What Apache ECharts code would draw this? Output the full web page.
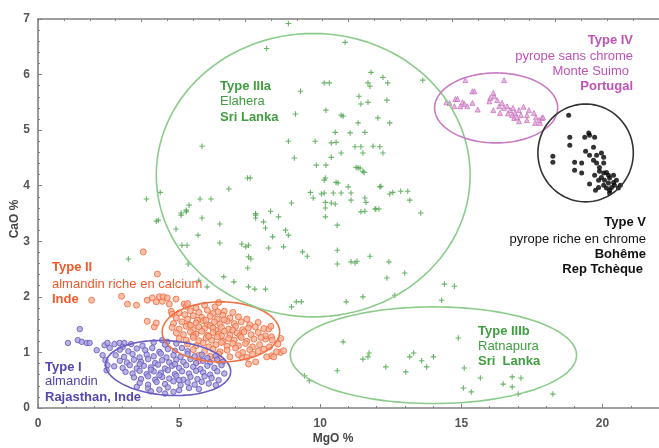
<!DOCTYPE html>
<html><head><meta charset="utf-8">
<script src="https://cdn.jsdelivr.net/npm/echarts@6/dist/echarts.min.js"></script>
<style>html,body{margin:0;padding:0;background:#fff}#c{width:659px;height:448px}</style>
</head><body><div id="c"></div>
<script>
// ---- data (MgO %, CaO %) ----
const typeI = [
[1.48,1.42],[1.06,1.17],[1.41,1.22],[1.55,1.19],[1.73,1.17],[1.83,1.17],[2.08,1.04],[2.36,1.13],[2.46,1.17],[2.54,1.08],[2.71,1.15],[2.89,1.17],[3.06,1.17],[2.29,0.95],[2.39,0.86],[2.46,0.77],[2.43,0.68],[4.4,1.22],[4.58,1.19],
[3.3,1.15],[3.7,1.12],[4.1,1.18],[4.5,1.14],[4.9,1.16],[3.0,1.1],
[2.9,1.05],[3.2,1.02],[3.5,1.07],[3.8,1.04],[4.05,1.08],[4.3,1.01],[4.6,1.06],[4.85,1.03],[5.1,1.08],[5.3,1.02],
[2.75,0.95],[3.05,0.92],[3.35,0.97],[3.6,0.91],[3.85,0.96],[4.1,0.93],[4.35,0.98],[4.55,0.91],[4.8,0.95],[5.05,0.92],[5.3,0.97],[5.55,0.93],[5.8,0.96],[6.0,0.9],[6.3,0.94],
[2.9,0.85],[3.15,0.82],[3.4,0.87],[3.65,0.83],[3.9,0.88],[4.15,0.81],[4.4,0.86],[4.65,0.82],[4.9,0.87],[5.15,0.83],[5.4,0.88],[5.6,0.81],[5.85,0.85],[6.1,0.82],[6.35,0.87],[6.55,0.83],
[2.7,0.75],[3.0,0.72],[3.25,0.77],[3.5,0.71],[3.75,0.76],[4.0,0.73],[4.25,0.78],[4.5,0.71],[4.75,0.76],[5.0,0.72],[5.25,0.77],[5.5,0.74],[5.75,0.7],[6.0,0.76],[6.25,0.72],[6.5,0.77],[3.6,0.79],[4.85,0.79],
[3.1,0.65],[3.35,0.62],[3.6,0.67],[3.85,0.61],[4.1,0.66],[4.35,0.63],[4.6,0.68],[4.85,0.61],[5.1,0.66],[5.35,0.62],[5.6,0.67],[5.85,0.64],[6.1,0.6],[6.35,0.66],[6.6,0.62],[4.0,0.69],
[3.4,0.55],[3.65,0.52],[3.9,0.57],[4.15,0.51],[4.4,0.56],[4.65,0.53],[4.9,0.58],[5.15,0.51],[5.4,0.56],[5.65,0.52],[5.9,0.57],[6.15,0.54],[6.4,0.5],[4.3,0.59],[5.0,0.5],
[3.6,0.45],[3.9,0.42],[4.2,0.47],[4.5,0.43],[4.8,0.48],[5.05,0.41],[5.3,0.46],[5.55,0.42],[5.8,0.47],[6.05,0.44],[6.3,0.41],
[3.9,0.35],[4.3,0.33],[4.6,0.37],[5.0,0.32],[5.35,0.36],[5.7,0.34],[4.0,0.3],[4.8,0.29],[3.5,0.38],[4.5,0.26]
];
const typeII = [
[3.73,2.81],[4.23,2.41],[1.9,1.94],[2.96,2.01],[3.17,1.87],[3.49,1.85],[3.87,1.94],[4.05,1.98],[4.19,1.91],[4.4,1.92],[4.3,2.0],[4.44,2.0],[4.58,1.98],[4.65,1.87],[4.89,1.96],[3.87,1.56],[4.12,1.46],[4.19,1.53],[5.18,1.87],[5.25,1.83],[4.72,1.74],[4.75,1.69],[6.27,1.82],[6.37,1.73],[8.17,1.42],[8.59,1.0],[8.27,0.94],[8.1,0.92],[7.71,0.83],[7.46,0.79],[8.06,1.24],[8.27,1.28],[5.7,0.85],[6.16,0.88],[6.41,0.85],[7.22,0.92],
[5.3,1.88],[5.9,1.85],[6.4,1.9],[5.6,1.8],
[5.0,1.71],[5.4,1.75],[5.7,1.72],[6.0,1.76],[6.2,1.7],[6.6,1.74],[6.9,1.72],[5.2,1.68],
[4.9,1.62],[5.3,1.6],[5.5,1.66],[5.8,1.63],[6.1,1.65],[6.35,1.6],[6.55,1.67],[6.8,1.62],[7.1,1.64],[7.4,1.6],[5.65,1.58],
[4.8,1.52],[5.1,1.55],[5.35,1.5],[5.6,1.53],[5.85,1.57],[6.0,1.5],[6.25,1.55],[6.45,1.51],[6.7,1.56],[6.95,1.52],[7.2,1.55],[7.5,1.5],[7.8,1.54],[5.95,1.58],[6.6,1.59],
[4.75,1.45],[5.0,1.42],[5.25,1.47],[5.5,1.41],[5.7,1.46],[5.9,1.43],[6.1,1.48],[6.3,1.4],[6.5,1.45],[6.75,1.42],[7.0,1.47],[7.25,1.41],[7.45,1.44],[7.7,1.46],[8.0,1.43],[8.25,1.47],[5.4,1.49],[6.2,1.44],[6.9,1.4],
[4.9,1.35],[5.15,1.32],[5.4,1.37],[5.6,1.33],[5.8,1.38],[6.0,1.31],[6.2,1.36],[6.4,1.33],[6.6,1.38],[6.8,1.31],[7.05,1.35],[7.3,1.37],[7.55,1.32],[7.8,1.36],[8.05,1.3],[5.5,1.3],[6.5,1.3],[7.15,1.3],
[5.0,1.25],[5.25,1.22],[5.5,1.27],[5.7,1.21],[5.95,1.26],[6.15,1.22],[6.35,1.28],[6.55,1.2],[6.75,1.25],[6.95,1.22],[7.2,1.27],[7.4,1.2],[7.65,1.24],[7.9,1.27],[8.3,1.22],[8.6,1.25],[6.05,1.29],
[5.3,1.15],[5.6,1.12],[5.85,1.17],[6.05,1.1],[6.3,1.14],[6.5,1.18],[6.7,1.11],[6.9,1.16],[7.1,1.12],[7.35,1.16],[7.6,1.1],[7.85,1.14],[8.2,1.1],[8.5,1.15],
[5.5,1.05],[5.9,1.02],[6.2,1.06],[6.45,1.01],[6.7,1.04],[7.0,1.08],[7.25,1.0],[7.5,1.05],[7.8,1.02],[8.0,1.06],[8.45,1.01],[8.7,1.03],
[5.7,0.95],[6.1,0.93],[6.4,0.97],[6.8,0.92],[7.1,0.96],[7.4,0.91],[7.6,0.97],[8.35,0.92]
];
const typeIIIa = [
[8.87,6.92],[8.1,6.47],[9.3,5.7],[10.14,5.85],[10.32,5.85],[9.12,5.29],[10.2,5.36],[5.81,4.71],[8.87,4.8],[9.82,4.8],[9.08,4.5],[9.86,4.37],[10.2,4.37],[7.42,4.14],[7.52,4.14],[6.76,3.94],[4.33,3.88],[3.84,3.76],[5.35,3.65],[5.74,3.76],[6.13,3.76],[5.07,3.51],[5.25,3.56],[5.81,3.42],[7.71,3.47],[8.24,3.54],[8.52,3.44],[8.98,3.69],[9.65,3.88],[9.75,3.78],[10.14,3.87],[10.14,4.1],[4.26,3.38],
[10.88,6.58],[11.8,6.04],[12.22,5.95],[12.39,5.85],[11.69,5.85],[11.76,5.79],[13.63,5.9],[11.37,5.61],[11.44,5.47],[11.69,5.5],[12.36,5.54],[10.74,5.27],[10.81,5.25],[12.04,5.22],[12.46,5.13],[11.34,5.13],[10.53,4.96],[11.06,4.95],[11.58,4.96],[10.39,4.77],[10.56,4.78],[11.23,4.7],[11.44,4.7],[11.87,4.71],[12.11,4.7],[12.22,4.59],[11.51,4.59],[10.39,4.51],[10.74,4.59],[11.34,4.32],[11.51,4.26],[10.56,4.06],[10.63,4.05],[10.99,3.98],[12.11,3.98],[10.46,3.87],[10.74,3.87],[11.09,3.87],[11.58,3.78],[12.46,3.85],[12.57,3.88],[12.85,3.9],[13.1,3.9],[11.58,3.54],[11.94,3.58],[13.56,3.51],[10.53,3.67],[11.09,3.74],
[10.18,4.14],[5.25,3.53],[5.07,3.47],[4.19,3.36],[4.89,3.22],[6.44,3.31],[5.67,3.11],[5.1,2.93],[5.28,2.93],[6.44,2.97],[7.71,3.5],[7.71,3.42],[7.99,3.35],[8.06,3.24],[8.77,3.2],[8.87,3.11],[8.31,3.08],[7.22,2.95],[7.36,2.9],[7.46,2.93],[8.17,2.88],[8.7,2.9],[9.37,2.81],[9.54,2.73],[7.46,2.72],[7.54,2.68],[7.43,2.52],[5.32,2.59],[6.58,2.36],[6.94,2.27],[7.46,2.18],[7.68,2.14],[8.06,2.14],[5.99,2.18],[5.7,2.3],[8.98,1.82],[9.15,1.91],[3.2,2.68],
[11.27,4.33],[11.41,4.32],[11.55,4.24],[12.15,3.99],[10.04,3.85],[10.18,3.7],[10.39,3.69],[10.18,3.6],[11.62,3.7],[13.17,3.74],[11.44,3.53],[11.97,3.58],[12.08,3.58],[10.18,3.44],[10.6,3.29],[10.6,2.84],[10.6,2.59],[11.09,2.63],[11.23,2.61],[11.3,2.64],[11.76,2.73],[12.43,2.63],[12.36,2.34],[12.99,2.43],[14.4,2.23],[14.75,2.19],[9.33,1.91],[10.92,1.91],[11.51,2.0],[12.64,2.03],[14.3,1.94]
];
const typeIIIb = [
[10.81,1.19],[10.6,0.67],[11.51,0.88],[11.69,0.92],[11.73,0.99],[12.32,0.74],[13.03,0.65],[13.17,0.92],[13.31,0.99],[13.59,0.85],[13.77,0.74],[14.01,0.92],[14.89,1.26],[15.1,0.72],[15.67,0.54],[15.07,0.36],[15.35,0.29],[16.48,0.43],[16.8,0.56],[17.11,0.54],[16.8,0.38],[17.01,0.25],[18.24,0.25],[9.44,0.58],[9.61,0.49]
];
const typeIV = [
[15.14,5.9],[16.51,5.9],[15.39,5.7],[14.79,5.56],[14.47,5.5],[15.04,5.5],[15.11,5.47],[15.21,5.43],[15.39,5.49],[14.96,5.43],[14.75,5.43],[16.02,5.58],[15.99,5.52],[16.16,5.61],[16.27,5.54],[16.34,5.43],[16.44,5.49],[16.62,5.43],[16.73,5.36],[16.83,5.40],[16.9,5.31],[17.04,5.36],[17.11,5.27],[16.8,5.27],[16.87,5.22],[16.97,5.23],[17.04,5.16],[17.39,5.36],[17.32,5.27],[17.57,5.31],[17.64,5.23],[17.32,5.18],[17.85,5.22],[17.78,5.13],[17.61,5.13],[16.13,5.36],[16.51,5.40],[16.37,5.31],[14.58,5.49],[14.86,5.56],[15.46,5.7],[16.13,5.67],[17.75,5.18],[17.89,5.23],[15.58,5.37],[16.65,5.3],[17.2,5.42]
];
const typeV = [
[18.8,5.27],[18.84,4.87],[18.84,4.73],[18.24,4.53],[18.24,4.42],[19.51,4.95],[19.54,4.91],[19.72,4.87],[19.37,4.87],[19.68,4.69],[19.4,4.62],[19.54,4.55],[19.79,4.55],[19.96,4.59],[20.04,4.51],[19.01,4.42],[19.26,4.41],[19.01,4.28],[19.26,4.23],[19.54,4.03],[19.68,4.46],[19.79,4.41],[19.89,4.33],[20.04,4.41],[19.89,4.26],[20.04,4.23],[20.14,4.24],[19.96,4.15],[19.86,4.10],[20.07,4.10],[20.25,4.14],[20.39,4.06],[20.21,4.05],[20.04,4.01],[19.86,3.97],[20.32,3.97],[20.42,4.01],[20.14,3.96],[20.25,3.92],[20.49,4.10],[20.21,4.19],[20.39,4.19],[20.25,3.87],[19.75,3.92],[20.56,3.96],[20.63,4.01],[19.72,4.19]
];
// ellipses: [centre MgO, centre CaO, radius MgO, radius CaO, tilt deg]
const ellipseParams = [
[4.61,0.72,2.22,0.49,-4],
[6.48,1.37,2.08,0.54,0],
[9.75,4.19,5.56,2.55,0],
[14.01,0.95,5.07,0.87,0],
[16.23,5.40,2.18,0.63,0],
[19.40,4.59,1.69,0.88,0]
];
const ellipseColors = ['#6a5cc2','#f07244','#8ccb8c','#8ccb8c','#c97cc4','#333333'];

const FONT = '"Liberation Sans", Arial, sans-serif';
const chart = echarts.init(document.getElementById('c'));

function renderEllipse(params, api){
  const c = api.coord([api.value(0), api.value(1)]);
  const s = api.size([api.value(2), api.value(3)]);
  const rot = api.value(4) * Math.PI / 180;
  const pts = [];
  for (let i = 0; i <= 120; i++) {
    const t = i / 120 * 2 * Math.PI;
    const X = s[0] * Math.cos(t), Y = s[1] * Math.sin(t);
    pts.push([c[0] + X * Math.cos(rot) - Y * Math.sin(rot), c[1] - (X * Math.sin(rot) + Y * Math.cos(rot))]);
  }
  return {type:'polyline', shape:{points:pts}, silent:true,
    style:{stroke: ellipseColors[params.dataIndex], fill:null, lineWidth:1.6}};
}

const plus = 'path://M2.4,0h1.2v2.4h2.4v1.2h-2.4v2.4h-1.2v-2.4h-2.4v-1.2h2.4z';
const axisCol = '#808080';
const labelStyle = {color:'#555', fontSize:12, fontWeight:'bold', fontFamily:FONT};

function txt(x, y, text, color, bold, align){
  return {type:'text', x:x, y:y, silent:true, z:100,
    style:{text:text, fill:color, font:(bold?'bold ':'')+'13px '+FONT,
      align:align||'left', verticalAlign:'middle', textAlign:align||'left', textVerticalAlign:'middle'}};
}
const G='#3f9e3f', O='#f05a2c', P='#5346b2', M='#c052b8', K='#111';

chart.setOption({
  animation:false,
  grid:{left:38, top:19, right:-4, bottom:40},
  xAxis:[{
    type:'value', min:0, max:22, interval:5, position:'bottom',
    axisLine:{lineStyle:{color:axisCol, width:1.6}},
    axisTick:{inside:true, length:4, lineStyle:{color:axisCol}},
    minorTick:{show:true, splitNumber:5, length:2, lineStyle:{color:axisCol}},
    splitLine:{show:false},
    axisLabel:Object.assign({margin:10, showMaxLabel:false}, labelStyle)
  },{
    type:'value', min:0, max:24, interval:4, position:'top',
    axisLine:{lineStyle:{color:axisCol, width:1.6}},
    axisTick:{inside:true, length:3, lineStyle:{color:axisCol}},
    minorTick:{show:true, splitNumber:4, length:2, lineStyle:{color:axisCol}},
    splitLine:{show:false}, axisLabel:{show:false}
  }],
  yAxis:{
    type:'value', min:0, max:7, interval:1,
    axisLine:{show:true, lineStyle:{color:axisCol, width:1.6}},
    axisTick:{show:true, inside:true, length:4, lineStyle:{color:axisCol}},
    minorTick:{show:true, splitNumber:5, length:2, lineStyle:{color:axisCol}},
    splitLine:{show:false},
    axisLabel:Object.assign({margin:8}, labelStyle)
  },
  series:[
    {type:'scatter', data:typeIIIa, symbol:plus, symbolSize:5.5, itemStyle:{color:'#45a045'}},
    {type:'scatter', data:typeIIIb, symbol:plus, symbolSize:5.5, itemStyle:{color:'#45a045'}},
    {type:'scatter', data:typeII, symbol:'circle', symbolSize:6, itemStyle:{color:'#f9b295', borderColor:'#f0663a', borderWidth:1}},
    {type:'scatter', data:typeI, symbol:'circle', symbolSize:5.5, itemStyle:{color:'#a7a1dc', borderColor:'#6355bd', borderWidth:1}},
    {type:'scatter', data:typeIV, symbol:'triangle', symbolSize:5, itemStyle:{color:'#e0a6da', borderColor:'#c462bc', borderWidth:0.8}},
    {type:'scatter', data:typeV, symbol:'circle', symbolSize:5, itemStyle:{color:'#000'}},
    {type:'custom', data:ellipseParams, renderItem:renderEllipse, z:5, silent:true}
  ],
  graphic:[
    {type:'text', x:15, y:219, rotation:Math.PI/2, silent:true,
      style:{text:'CaO %', fill:'#444', font:'bold 12px '+FONT, align:'center', verticalAlign:'middle', textAlign:'center', textVerticalAlign:'middle'}},
    {type:'text', x:333, y:439, silent:true,
      style:{text:'MgO %', fill:'#444', font:'bold 12px '+FONT, align:'center', verticalAlign:'middle', textAlign:'center', textVerticalAlign:'middle'}},
    txt(220,86,'Type IIIa',G,true), txt(220,101,'Elahera',G,false), txt(220,117,'Sri Lanka',G,true),
    txt(52,267,'Type II',O,true), txt(52,284,'almandin riche en calcium',O,false), txt(52,299,'Inde',O,true),
    txt(45,367,'Type I',P,true), txt(45,381,'almandin',P,false), txt(45,397,'Rajasthan, Inde',P,true),
    txt(633,40,'Type IV',M,true,'right'), txt(633,56,'pyrope sans chrome',M,false,'right'), txt(629,71,'Monte Suimo',M,false,'right'), txt(633,86,'Portugal',M,true,'right'),
    txt(646,222,'Type V',K,true,'right'), txt(646,239,'pyrope riche en chrome',K,false,'right'), txt(646,254,'Bohême',K,true,'right'), txt(643,269,'Rep Tchèque',K,true,'right'),
    txt(478,331,'Type IIIb',G,true), txt(478,346,'Ratnapura',G,false), txt(478,361,'Sri  Lanka',G,true)
  ]
});
</script>
</body></html>
